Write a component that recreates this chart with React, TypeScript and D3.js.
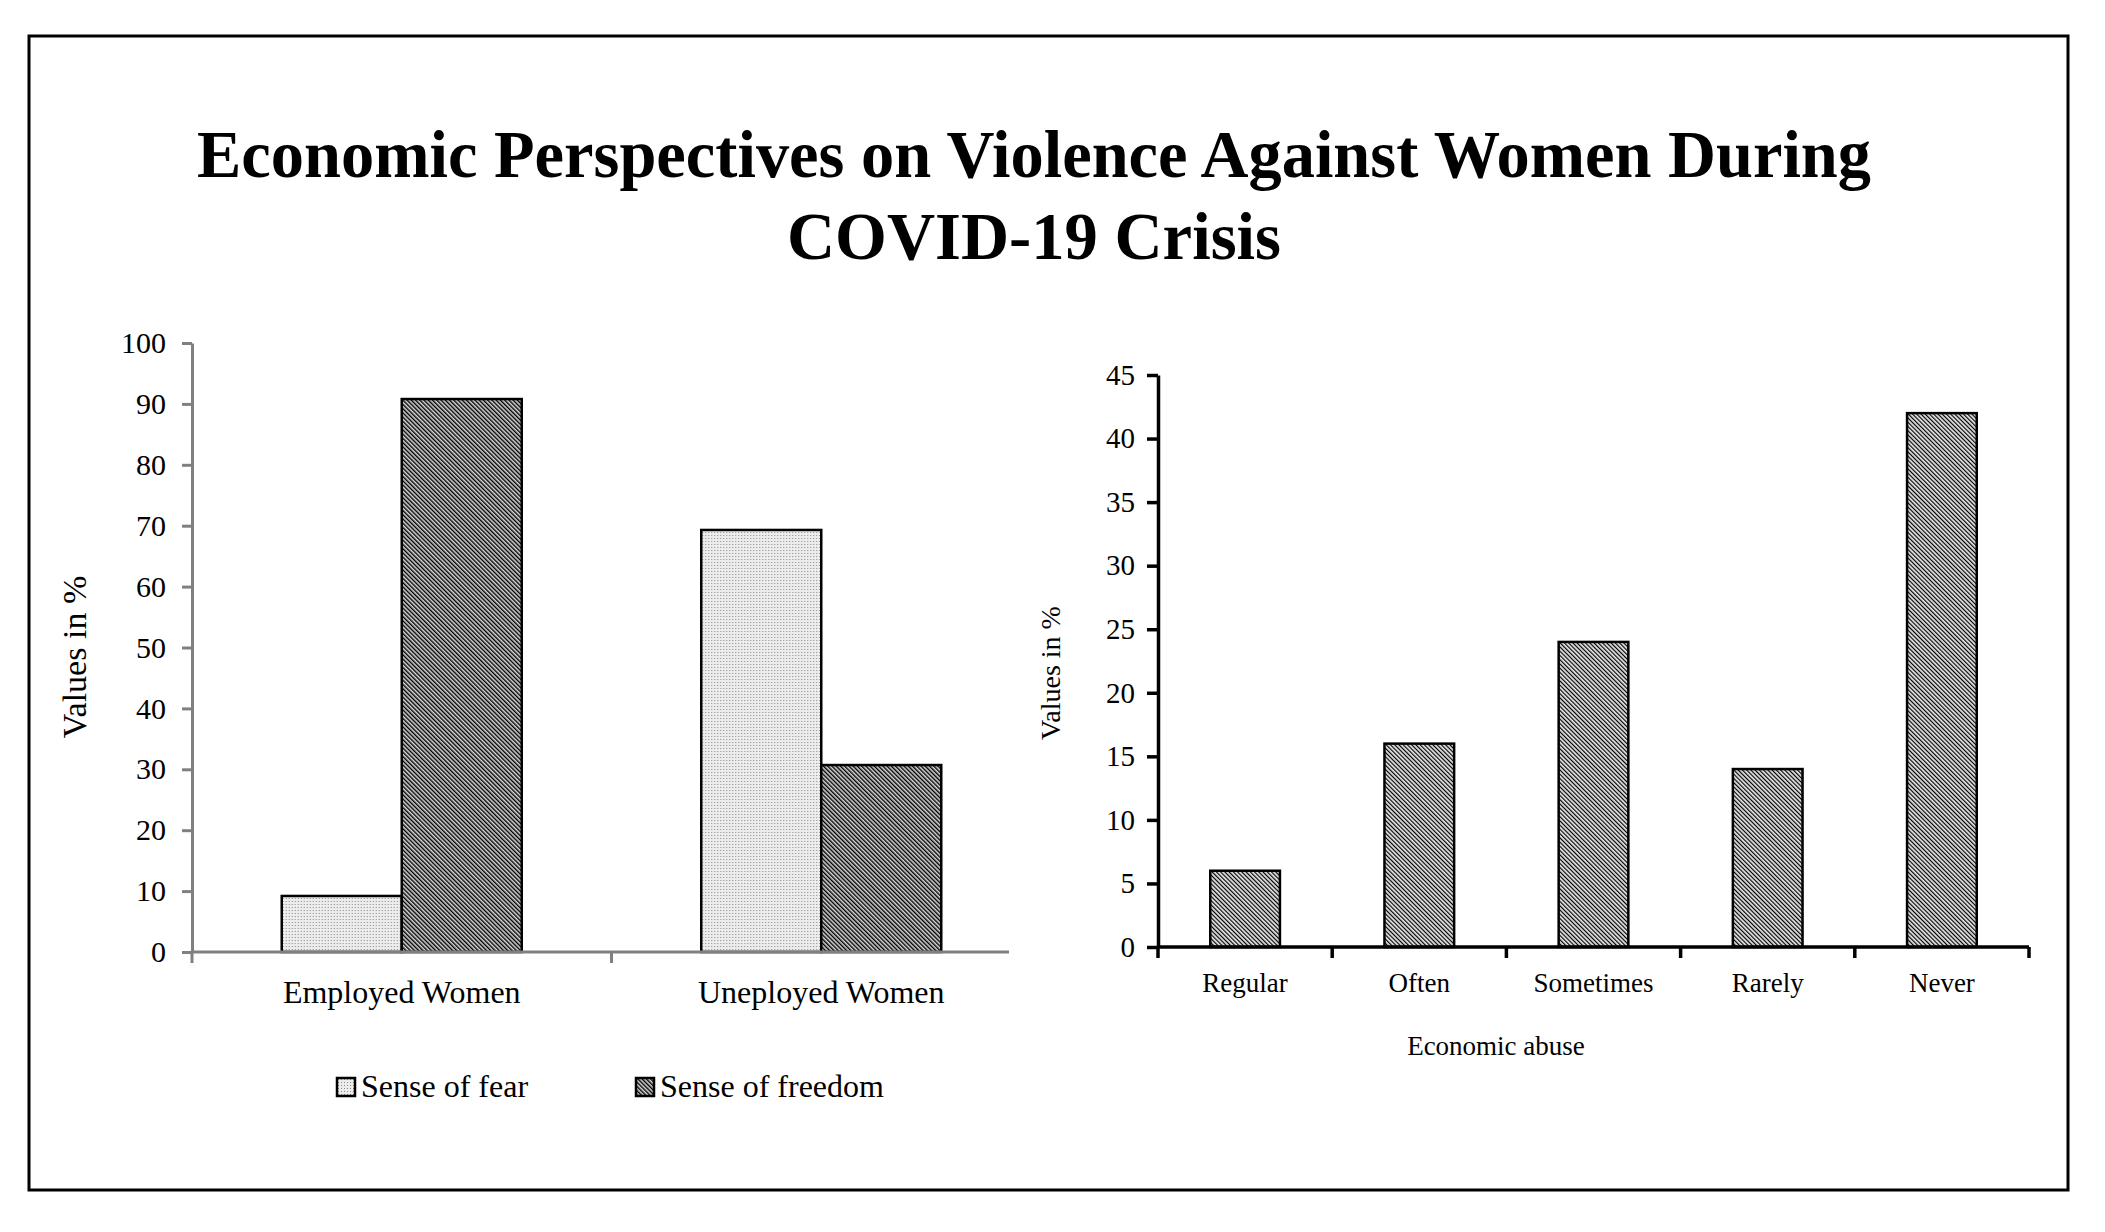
import React, { useEffect, useRef } from "react";
import * as d3 from "d3";

// left panel: sense of fear / freedom by employment
const groups = ["Employed Women", "Uneployed Women"];
const seriesNames = ["Sense of fear", "Sense of freedom"];
const fearValues = [9.2, 69.3];
const freedomValues = [90.8, 30.7];
const leftTicks = [0, 10, 20, 30, 40, 50, 60, 70, 80, 90, 100];

// right panel: economic abuse frequency
const abuseCategories = ["Regular", "Often", "Sometimes", "Rarely", "Never"];
const abuseValues = [6, 16, 24, 14, 42];
const rightTicks = [0, 5, 10, 15, 20, 25, 30, 35, 40, 45];

const titleLines = ["Economic Perspectives on Violence Against Women During", "COVID-19 Crisis"];

const W = 2105;
const H = 1232;
const FONT = "'Liberation Serif', 'Times New Roman', serif";

const App = () => {
    const ref = useRef<SVGSVGElement>(null);

    useEffect(() => {
        const svg = d3.select(ref.current);
        svg.selectAll("*").remove();

        // patterns
        const defs = svg.append("defs");
        const fear = defs.append("pattern")
            .attr("id", "fearFill")
            .attr("patternUnits", "userSpaceOnUse")
            .attr("width", 3)
            .attr("height", 3);
        fear.append("rect").attr("width", 3).attr("height", 3).attr("fill", "#ececec");
        fear.append("rect").attr("x", 1).attr("y", 1).attr("width", 1).attr("height", 1).attr("fill", "#8a8a8a");

        const hatch = (id: string, bg: string, lw: number) => {
            const p = defs.append("pattern")
                .attr("id", id)
                .attr("patternUnits", "userSpaceOnUse")
                .attr("width", 3)
                .attr("height", 3)
                .attr("patternTransform", "rotate(-45)");
            p.append("rect").attr("width", 3).attr("height", 3).attr("fill", bg);
            p.append("rect").attr("width", lw).attr("height", 3).attr("fill", "#000");
        };
        hatch("freedomFill", "#d6d6d6", 1.4);
        hatch("abuseFill", "#e2e2e2", 1.15);

        svg.append("rect")
            .attr("width", W).attr("height", H).attr("fill", "#fff");
        svg.append("rect")
            .attr("x", 29).attr("y", 36).attr("width", 2039).attr("height", 1154)
            .attr("fill", "none").attr("stroke", "#000").attr("stroke-width", 3);

        // title
        const titleW = [1674, 494];
        svg.append("g").selectAll("text")
            .data(titleLines)
            .enter()
            .append("text")
            .attr("x", 1034)
            .attr("y", (d, i) => 177 + i * 82)
            .attr("text-anchor", "middle")
            .attr("textLength", (d, i) => titleW[i])
            .attr("lengthAdjust", "spacingAndGlyphs")
            .style("font-family", FONT)
            .style("font-weight", 700)
            .style("font-size", "68px")
            .text(d => d);

        // ---------- left chart ----------
        const yL = d3.scaleLinear().domain([0, 100]).range([952, 343]);
        const xL = d3.scaleBand<string>().domain(groups).range([192, 1031]);
        const inner = d3.scaleBand<string>().domain(seriesNames).range([0, 240]);
        const innerOff = (xL.bandwidth() - 240) / 2;
        const fills = ["url(#fearFill)", "url(#freedomFill)"];
        const gray = "#808080";

        const rows = groups.map((g, i) => ({ g, vals: [fearValues[i], freedomValues[i]] }));
        const gL = svg.append("g");
        gL.selectAll("g.grp")
            .data(rows)
            .enter()
            .append("g")
            .attr("transform", d => `translate(${(xL(d.g) || 0) + innerOff},0)`)
            .selectAll("rect")
            .data(d => d.vals.map((v, k) => ({ v, k })))
            .enter()
            .append("rect")
            .attr("x", d => inner(seriesNames[d.k]) || 0)
            .attr("y", d => yL(d.v))
            .attr("width", inner.bandwidth())
            .attr("height", d => yL(0) - yL(d.v))
            .attr("fill", d => fills[d.k])
            .attr("stroke", "#000")
            .attr("stroke-width", 2.5);

        const axL = svg.append("g")
            .attr("transform", "translate(192,0)")
            .call(d3.axisLeft(yL).tickValues(leftTicks).tickSize(10).tickSizeOuter(0).tickPadding(16));
        axL.select(".domain").attr("stroke", gray).attr("stroke-width", 3);
        axL.selectAll(".tick line").attr("stroke", gray).attr("stroke-width", 3);
        axL.selectAll("text")
            .style("font-family", FONT)
            .style("font-size", "30px")
            .attr("fill", "#000");

        // x axis line + boundary ticks
        svg.append("line")
            .attr("x1", 192).attr("x2", 1009).attr("y1", yL(0)).attr("y2", yL(0))
            .attr("stroke", gray).attr("stroke-width", 3);
        svg.append("g").selectAll("line")
            .data(groups)
            .enter()
            .append("line")
            .attr("x1", d => xL(d) || 0).attr("x2", d => xL(d) || 0)
            .attr("y1", yL(0)).attr("y2", yL(0) + 11)
            .attr("stroke", gray).attr("stroke-width", 3);
        svg.append("g").selectAll("text")
            .data(groups)
            .enter()
            .append("text")
            .attr("x", d => (xL(d) || 0) + xL.bandwidth() / 2)
            .attr("y", 1003)
            .attr("text-anchor", "middle")
            .style("font-family", FONT)
            .style("font-size", "32px")
            .text(d => d);

        svg.append("text")
            .attr("transform", "translate(86,657) rotate(-90)")
            .attr("text-anchor", "middle")
            .style("font-family", FONT)
            .style("font-size", "34px")
            .text("Values in %");

        // legend
        const legendX = [337, 636];
        const lg = svg.append("g").selectAll("g")
            .data(seriesNames)
            .enter()
            .append("g")
            .attr("transform", (d, i) => `translate(${legendX[i]},1078)`);
        lg.append("rect")
            .attr("width", 18).attr("height", 18)
            .attr("fill", (d, i) => fills[i])
            .attr("stroke", "#000").attr("stroke-width", 2.5);
        lg.append("text")
            .attr("x", 24).attr("y", 19)
            .style("font-family", FONT)
            .style("font-size", "32px")
            .text(d => d);

        // ---------- right chart ----------
        const yR = d3.scaleLinear().domain([0, 45]).range([947, 375]);
        const xR = d3.scaleBand<string>().domain(abuseCategories).range([1158, 2029]);
        const barW = xR.bandwidth() * 0.4;

        svg.append("g").selectAll("rect")
            .data(abuseCategories)
            .enter()
            .append("rect")
            .attr("x", d => (xR(d) || 0) + (xR.bandwidth() - barW) / 2)
            .attr("y", (d, i) => yR(abuseValues[i]))
            .attr("width", barW)
            .attr("height", (d, i) => yR(0) - yR(abuseValues[i]))
            .attr("fill", "url(#abuseFill)")
            .attr("stroke", "#000")
            .attr("stroke-width", 2.5);

        const axR = svg.append("g")
            .attr("transform", "translate(1158,0)")
            .call(d3.axisLeft(yR).tickValues(rightTicks).tickSize(11).tickSizeOuter(0).tickPadding(12));
        axR.select(".domain").attr("stroke", "#000").attr("stroke-width", 3.5);
        axR.selectAll(".tick line").attr("stroke", "#000").attr("stroke-width", 3.5);
        axR.selectAll("text")
            .style("font-family", FONT)
            .style("font-size", "29px")
            .attr("fill", "#000");

        const edges = abuseCategories.map(c => xR(c) || 0).concat([xR.range()[1]]);
        svg.append("line")
            .attr("x1", 1158).attr("x2", xR.range()[1]).attr("y1", yR(0)).attr("y2", yR(0))
            .attr("stroke", "#000").attr("stroke-width", 3.5);
        svg.append("g").selectAll("line")
            .data(edges)
            .enter()
            .append("line")
            .attr("x1", d => d).attr("x2", d => d)
            .attr("y1", yR(0)).attr("y2", yR(0) + 11)
            .attr("stroke", "#000").attr("stroke-width", 3.5);
        svg.append("g").selectAll("text")
            .data(abuseCategories)
            .enter()
            .append("text")
            .attr("x", d => (xR(d) || 0) + xR.bandwidth() / 2)
            .attr("y", 992)
            .attr("text-anchor", "middle")
            .style("font-family", FONT)
            .style("font-size", "27px")
            .text(d => d);

        svg.append("text")
            .attr("x", 1496).attr("y", 1055)
            .attr("text-anchor", "middle")
            .style("font-family", FONT)
            .style("font-size", "27px")
            .text("Economic abuse");

        svg.append("text")
            .attr("transform", "translate(1060,673) rotate(-90)")
            .attr("text-anchor", "middle")
            .style("font-family", FONT)
            .style("font-size", "28px")
            .text("Values in %");
    }, []);

    return (
        <svg
            ref={ref}
            width={W}
            height={H}
            style={{ position: "absolute", left: 0, top: 0, display: "block" }}
        />
    );
};

export default App;
